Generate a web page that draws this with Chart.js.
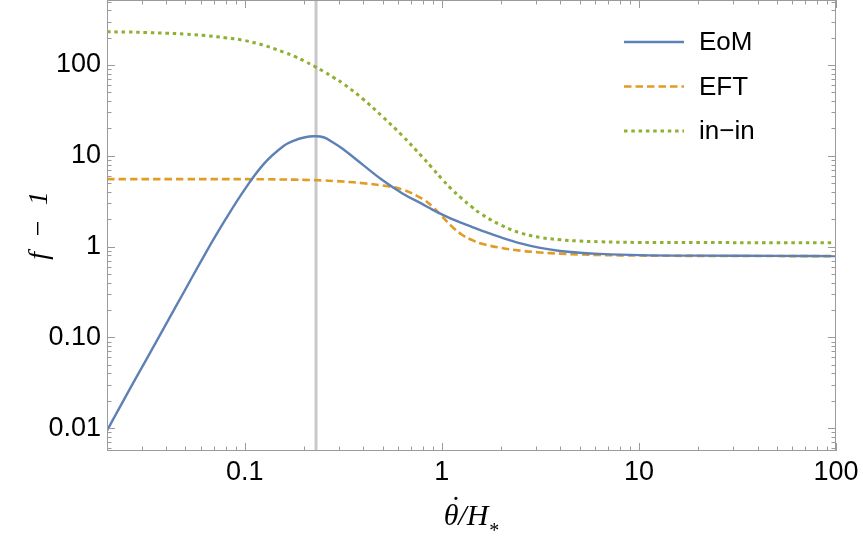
<!DOCTYPE html>
<html>
<head>
<meta charset="utf-8">
<script src="https://cdn.jsdelivr.net/npm/chart.js@4.4.1/dist/chart.umd.min.js"></script>
<style>
  body { margin: 0; background: #fff; }
  #wrap { width: 863px; height: 540px; }
</style>
</head>
<body>
<div id="wrap"><canvas id="fChart" width="863" height="540"></canvas></div>
<script>
// values
var xValues    = [0.02, 0.0251, 0.0316, 0.0398, 0.0501, 0.0631, 0.0794, 0.1, 0.126, 0.158, 0.178, 0.2, 0.224, 0.251, 0.282, 0.316, 0.398, 0.501, 0.631, 0.794, 0.891, 1, 1.12, 1.26, 1.41, 1.58, 2, 2.51, 3.16, 3.98, 5.01, 6.31, 10, 20, 50, 100];
var eomValues  = [0.0094, 0.0231, 0.0566, 0.139, 0.341, 0.838, 1.95, 4.27, 8.3, 12.9, 14.7, 15.9, 16.4, 16.0, 13.9, 11.8, 7.94, 5.37, 3.85, 2.95, 2.57, 2.26, 2.02, 1.82, 1.66, 1.51, 1.26, 1.084, 0.966, 0.895, 0.855, 0.830, 0.805, 0.794, 0.789, 0.785];
var eftValues  = [5.53, 5.53, 5.53, 5.53, 5.53, 5.53, 5.53, 5.53, 5.51, 5.48, 5.46, 5.43, 5.39, 5.35, 5.28, 5.20, 4.99, 4.70, 4.25, 3.37, 2.79, 2.16, 1.68, 1.36, 1.19, 1.08, 0.966, 0.902, 0.861, 0.836, 0.818, 0.807, 0.796, 0.789, 0.786, 0.785];
var inInValues = [232, 231, 228, 224, 219, 211, 200, 186, 164, 138, 125, 111, 97.5, 85, 73, 62.4, 42.2, 26.9, 16.6, 9.77, 7.4, 5.56, 4.3, 3.39, 2.77, 2.29, 1.72, 1.41, 1.26, 1.19, 1.15, 1.13, 1.11, 1.107, 1.103, 1.10];
var seriesLabels = ['EoM', 'EFT', 'in\u2212in'];
var markerX = 0.23;

var xTickValues = [0.1, 1, 10, 100];
var xTickText   = ['0.1', '1', '10', '100'];
var yTickValues = [0.01, 0.1, 1, 10, 100];
var yTickText   = ['0.01', '0.10', '1', '10', '100'];

var xMin = 0.02, xMax = 100;
var yMin = 0.0056, yMax = 520;

function toPoints(ys) {
    return xValues.map(function (x, i) { return { x: x, y: ys[i] }; });
}

var frameColor = '#9a9a9a';
var labelFont = { family: 'Liberation Sans, Arial, sans-serif', size: 27 };
var serif = '"Liberation Serif", "Times New Roman", serif';

// frame, inward ticks on all four sides, x title with subscript, legend
var framePlugin = {
    id: 'frame',
    afterDraw: function (chart) {
        var ctx = chart.ctx;
        var a = chart.chartArea;
        var xs = chart.scales.x, ys = chart.scales.y;
        ctx.save();
        ctx.strokeStyle = frameColor;
        ctx.lineWidth = 1;
        ctx.strokeRect(a.left + 0.5, a.top + 0.5, a.right - a.left - 1, a.bottom - a.top - 1);

        function tickList(lo, hi) {
            var out = [];
            for (var e = Math.floor(Math.log10(lo)); e <= Math.ceil(Math.log10(hi)); e++) {
                for (var m = 1; m < 10; m++) {
                    var v = m * Math.pow(10, e);
                    if (v >= lo * 0.999 && v <= hi * 1.001) out.push({ v: v, major: m === 1 });
                }
            }
            return out;
        }
        ctx.beginPath();
        tickList(xMin, xMax).forEach(function (t) {
            var px = Math.round(xs.getPixelForValue(t.v)) + 0.5;
            var len = t.major ? 8 : 4.5;
            ctx.moveTo(px, a.bottom); ctx.lineTo(px, a.bottom - len);
            ctx.moveTo(px, a.top); ctx.lineTo(px, a.top + len);
        });
        tickList(yMin, yMax).forEach(function (t) {
            var py = Math.round(ys.getPixelForValue(t.v)) + 0.5;
            var len = t.major ? 8 : 4.5;
            ctx.moveTo(a.left, py); ctx.lineTo(a.left + len, py);
            ctx.moveTo(a.right, py); ctx.lineTo(a.right - len, py);
        });
        ctx.stroke();

        // x axis title: theta with dot over it, "/H" and subscript star
        ctx.fillStyle = '#000';
        ctx.textBaseline = 'alphabetic';
        ctx.textAlign = 'left';
        ctx.font = 'italic 30px ' + serif;
        var wTheta = ctx.measureText('\u03B8').width;
        var wRest = ctx.measureText('/H').width;
        ctx.font = '20px ' + serif;
        var wStar = ctx.measureText('*').width;
        var cx = (a.left + a.right) / 2;
        var x0 = cx - (wTheta + wRest + wStar + 1) / 2;
        ctx.font = 'italic 30px ' + serif;
        ctx.fillText('\u03B8', x0, 525);
        ctx.fillText('/H', x0 + wTheta, 525);
        var wDot = ctx.measureText('\u02D9').width;
        ctx.fillText('\u02D9', x0 + wTheta / 2 - wDot / 2 + 3, 517);
        ctx.font = '20px ' + serif;
        ctx.fillText('*', x0 + wTheta + wRest + 1, 537);

        // legend
        ctx.font = '26px "Liberation Sans", Arial, sans-serif';
        ctx.textBaseline = 'middle';
        for (var i = 0; i < 3; i++) {
            var ds = chart.data.datasets[i];
            var y = a.top + 42 + i * 44.5;
            ctx.beginPath();
            ctx.strokeStyle = ds.borderColor;
            ctx.lineWidth = ds.borderWidth;
            ctx.setLineDash(ds.borderDash || []);
            ctx.moveTo(a.right - 212, y);
            ctx.lineTo(a.right - 152, y);
            ctx.stroke();
            ctx.setLineDash([]);
            ctx.fillText(ds.label, a.right - 137, y + 1);
        }
        ctx.restore();
    }
};

var ctx = document.getElementById('fChart').getContext('2d');
var fChart = new Chart(ctx, {
    type: 'line',
    data: {
        datasets: [{
            label: seriesLabels[0],
            data: toPoints(eomValues),
            borderColor: '#5E81B5',
            borderWidth: 2.4,
            tension: 0.4
        }, {
            label: seriesLabels[1],
            data: toPoints(eftValues),
            borderColor: '#E19C24',
            borderWidth: 2.6,
            borderDash: [7.5, 4],
            tension: 0.4
        }, {
            label: seriesLabels[2],
            data: toPoints(inInValues),
            borderColor: '#8FB032',
            borderWidth: 3,
            borderDash: [3.5, 3.8],
            tension: 0.4
        }, {
            label: 'marker',
            data: [{ x: markerX, y: yMin }, { x: markerX, y: yMax }],
            borderColor: '#c8c8c8',
            borderWidth: 3
        }]
    },
    options: {
        responsive: false,
        animation: false,
        events: [],
        layout: { padding: { left: 0, right: 27, top: 0, bottom: 0 } },
        elements: { point: { radius: 0 } },
        plugins: {
            legend: { display: false },
            tooltip: { enabled: false }
        },
        scales: {
            x: {
                type: 'logarithmic',
                min: xMin,
                max: xMax,
                grid: { display: false, drawTicks: false },
                border: { display: false },
                afterBuildTicks: function (scale) {
                    scale.ticks = xTickValues.map(function (v) { return { value: v }; });
                },
                afterFit: function (scale) {
                    scale.height = 89;
                    scale.paddingLeft = 0; scale.paddingRight = 0;
                },
                ticks: {
                    autoSkip: false,
                    maxRotation: 0,
                    padding: 5,
                    color: '#000',
                    font: labelFont,
                    callback: function (v) {
                        var i = xTickValues.indexOf(v);
                        return i >= 0 ? xTickText[i] : '';
                    }
                }
            },
            y: {
                type: 'logarithmic',
                min: yMin,
                max: yMax,
                grid: { display: false, drawTicks: false },
                border: { display: false },
                afterBuildTicks: function (scale) {
                    scale.ticks = yTickValues.map(function (v) { return { value: v }; });
                },
                afterFit: function (scale) {
                    scale.width = 107;
                    scale.paddingTop = 0; scale.paddingBottom = 0;
                },
                ticks: {
                    autoSkip: false,
                    padding: 6,
                    color: '#000',
                    font: labelFont,
                    callback: function (v) {
                        var i = yTickValues.indexOf(v);
                        return i >= 0 ? yTickText[i] : '';
                    }
                },
                title: {
                    display: true,
                    text: 'f\u2002\u2212\u20021',
                    color: '#000',
                    padding: { top: 23, bottom: 0 },
                    font: { family: serif, style: 'italic', size: 28 }
                }
            }
        }
    },
    plugins: [framePlugin]
});
</script>
</body>
</html>
